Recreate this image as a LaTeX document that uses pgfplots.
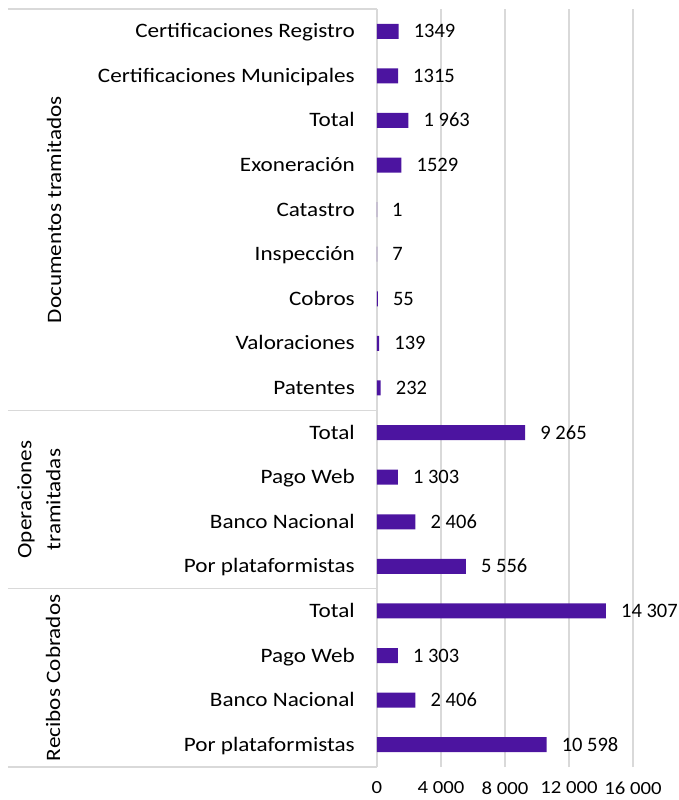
\documentclass[border=0pt]{standalone}
\usepackage{pgfplots}
\pgfplotsset{compat=1.18}
\usepackage{fontspec}
\setmainfont{Carlito}
\newfontfamily\catfont[FakeStretch=1.13]{Carlito}
\newfontfamily\tickfont[FakeStretch=1.12]{Carlito}
\definecolor{barcol}{RGB}{76,20,160}
\definecolor{gridcol}{RGB}{217,217,217}
\begin{document}
\begin{tikzpicture}
\useasboundingbox (-377pt,-33pt) rectangle (301pt,767pt);
\begin{axis}[
  at={(0,0)}, anchor=south west,
  scale only axis, width=256pt, height=758pt,
  xbar, bar width=15pt,
  xmin=0, xmax=16000, ymin=-0.5, ymax=16.5,
  axis line style={draw=none},
  xtick={0,4000,8000,12000,16000},
  xticklabels={0,4~000,8~000,12~000,16~000},
  xticklabel style={font=\tickfont\fontsize{18.5}{20}\selectfont, anchor=center, yshift=-21pt, inner sep=0pt},
  xmajorgrids, major grid style={gridcol, line width=1.4pt},
  major tick length=0pt,
  ytick={0,...,16},
  yticklabels={Por plataformistas, Banco Nacional, Pago Web, Total\hspace{0.3em},
               Por plataformistas, Banco Nacional, Pago Web, Total\hspace{0.3em},
               Patentes, Valoraciones, Cobros, Inspección\hspace{0.3em}, Catastro, Exoneración\hspace{0.3em}, Total\hspace{0.3em},
               Certificaciones Municipales\hspace{0.3em}, Certificaciones Registro},
  yticklabel style={font=\catfont\fontsize{20.5}{24}\selectfont, anchor=base east, inner sep=0pt, xshift=-22pt, yshift=-6.5pt},
  clip=false,
  point meta=explicit symbolic,
  nodes near coords,
]
\addplot[fill=barcol, draw=none,
  every node near coord/.append style={anchor=base west, inner sep=0pt, xshift=15pt, yshift=-6.5pt, font=\fontsize{20.5}{24}\selectfont, text=black}]
coordinates {
(10598,0) [10~598]
(2406,1) [2~406]
(1303,2) [1~303]
(14307,3) [14~307]
(5556,4) [5~556]
(2406,5) [2~406]
(1303,6) [1~303]
(9265,7) [9~265]
(232,8) [232]
(139,9) [139]
(55,10) [55]
(7,11) [7]
(1,12) [1]
(1529,13) [1529]
(1963,14) [1~963]
(1315,15) [1315]
(1349,16) [1349]
};
\draw[gridcol, line width=1.4pt] ([xshift=-369pt]axis cs:0,16.5) -- (axis cs:0,16.5);
\draw[gridcol, line width=1.4pt] ([xshift=-369pt]axis cs:0,7.5) -- (axis cs:0,7.5);
\draw[gridcol, line width=1.4pt] ([xshift=-369pt]axis cs:0,3.5) -- (axis cs:0,3.5);
\draw[gridcol, line width=1.4pt] ([xshift=-369pt]axis cs:0,-0.5) -- (axis cs:0,-0.5);
\node[rotate=90, font=\catfont\fontsize{20.5}{24}\selectfont, align=center] at ([xshift=-323pt]axis cs:0,12) {Documentos tramitados};
\node[rotate=90, font=\catfont\fontsize{20.5}{29}\selectfont, align=center] at ([xshift=-338pt]axis cs:0,5.5) {Operaciones\\tramitadas};
\node[rotate=90, font=\catfont\fontsize{20.5}{24}\selectfont, align=center] at ([xshift=-324pt]axis cs:0,1.5) {Recibos Cobrados};
\end{axis}
\end{tikzpicture}
\end{document}
